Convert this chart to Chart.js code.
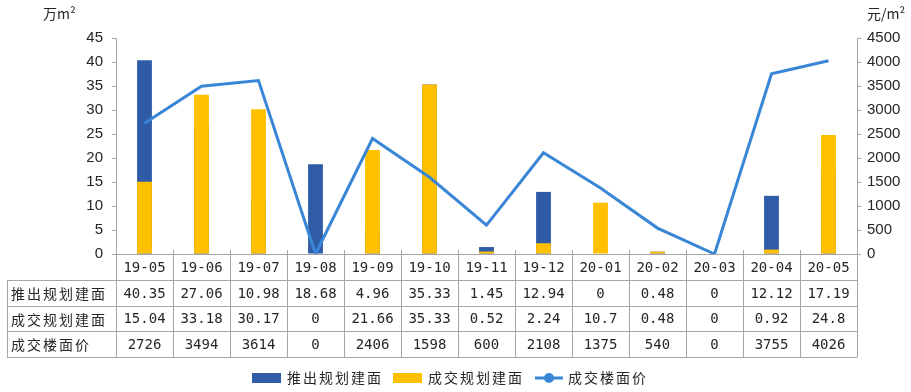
<!DOCTYPE html>
<html>
<head>
<meta charset="utf-8">
<script src="https://cdn.jsdelivr.net/npm/chart.js@4.4.1/dist/chart.umd.min.js"></script>
<style>
  html, body { margin: 0; padding: 0; background: #ffffff; }
  canvas { display: block; }
</style>
</head>
<body>
<canvas id="c" width="911" height="392"></canvas>
<script>
const categories = ['19-05','19-06','19-07','19-08','19-09','19-10','19-11','19-12','20-01','20-02','20-03','20-04','20-05'];
const pushedArea = [40.35, 27.06, 10.98, 18.68, 4.96, 35.33, 1.45, 12.94, 0, 0.48, 0, 12.12, 17.19];
const tradedArea = [15.04, 33.18, 30.17, 0, 21.66, 35.33, 0.52, 2.24, 10.7, 0.48, 0, 0.92, 24.8];
const tradedPrice = [2726, 3494, 3614, 0, 2406, 1598, 600, 2108, 1375, 540, 0, 3755, 4026];
const seriesNames = ['推出规划建面', '成交规划建面', '成交楼面价'];
const leftUnit = '万m²';
const rightUnit = '元/m²';

const BLUE = '#2f5ba7';
const YELLOW = '#ffc000';
const LINE = '#3a86d6';
const GRID = '#a6a6a6';
const TXT = '#262626';

const tablePlugin = {
  id: 'tablePlugin',
  afterDraw(chart) {
    const ctx = chart.ctx;
    const xs = chart.scales.x;
    const area = chart.chartArea;
    const n = categories.length;
    const cw = (area.right - area.left) / n;
    const top = Math.round(area.bottom);
    const rowH = 25.75;
    const tableLeft = 7;
    const rows = [top, top + rowH, top + 2 * rowH, top + 3 * rowH, top + 4 * rowH].map(v => Math.round(v));
    ctx.save();
    ctx.strokeStyle = GRID;
    ctx.lineWidth = 1;
    ctx.beginPath();
    ctx.moveTo(area.left, rows[0] + 0.5); ctx.lineTo(area.right, rows[0] + 0.5);
    for (let r = 1; r < rows.length; r++) {
      ctx.moveTo(tableLeft, rows[r] + 0.5); ctx.lineTo(area.right, rows[r] + 0.5);
    }
    for (let k = 0; k <= n; k++) {
      const x = Math.round(area.left + k * cw) + 0.5;
      ctx.moveTo(x, rows[0] - 4); ctx.lineTo(x, rows[4] + 0.5);
    }
    ctx.moveTo(tableLeft + 0.5, rows[1]); ctx.lineTo(tableLeft + 0.5, rows[4] + 0.5);
    ctx.stroke();

    ctx.fillStyle = TXT;
    ctx.textBaseline = 'middle';
    ctx.textAlign = 'center';
    ctx.font = '14px "DejaVu Sans Mono", "Noto Sans CJK SC"';
    categories.forEach((c, i) => {
      ctx.fillText(c, xs.getPixelForValue(i), (rows[0] + rows[1]) / 2 + 1);
    });
    const rowData = [pushedArea, tradedArea, tradedPrice];
    rowData.forEach((arr, r) => {
      const cy = (rows[r + 1] + rows[r + 2]) / 2 + 1;
      ctx.textAlign = 'left';
      ctx.font = '14px "Noto Sans CJK SC"';
      ctx.letterSpacing = '2px';
      ctx.fillText(seriesNames[r], 11, cy);
      ctx.letterSpacing = '0px';
      ctx.textAlign = 'center';
      ctx.font = '14px "DejaVu Sans Mono"';
      arr.forEach((v, i) => {
        ctx.fillText(String(v), xs.getPixelForValue(i), cy);
      });
    });

    ctx.textAlign = 'left';
    ctx.font = '14px "Noto Sans CJK SC"';
    ctx.fillText(leftUnit, 43, 14);
    ctx.fillText(rightUnit, 867, 14);

    const ly = 378;
    ctx.font = '14px "Noto Sans CJK SC"';
    ctx.letterSpacing = '2px';
    ctx.fillStyle = BLUE;
    ctx.fillRect(252, ly - 5, 29, 10);
    ctx.fillStyle = TXT;
    ctx.fillText(seriesNames[0], 287, ly);
    ctx.fillStyle = YELLOW;
    ctx.fillRect(393, ly - 5, 29, 10);
    ctx.fillStyle = TXT;
    ctx.fillText(seriesNames[1], 428, ly);
    ctx.strokeStyle = LINE;
    ctx.lineWidth = 3;
    ctx.beginPath(); ctx.moveTo(535, ly); ctx.lineTo(563, ly); ctx.stroke();
    ctx.fillStyle = LINE;
    ctx.beginPath(); ctx.arc(549, ly, 5, 0, Math.PI * 2); ctx.fill();
    ctx.fillStyle = TXT;
    ctx.fillText(seriesNames[2], 568, ly);
    ctx.letterSpacing = '0px';
    ctx.restore();
  }
};

new Chart(document.getElementById('c'), {
  data: {
    labels: categories,
    datasets: [
      { type: 'line', label: seriesNames[2], data: tradedPrice, yAxisID: 'y1', borderColor: LINE, backgroundColor: LINE, borderWidth: 3, pointRadius: 0, tension: 0, order: 0 },
      { type: 'bar', label: seriesNames[1], data: tradedArea, yAxisID: 'y', backgroundColor: YELLOW, grouped: false, barPercentage: 0.26, categoryPercentage: 1, order: 1 },
      { type: 'bar', label: seriesNames[0], data: pushedArea, yAxisID: 'y', backgroundColor: BLUE, grouped: false, barPercentage: 0.26, categoryPercentage: 1, order: 2 }
    ]
  },
  options: {
    responsive: false,
    animation: false,
    devicePixelRatio: 1,
    layout: { padding: { top: 38, bottom: 138, left: 0, right: 0 } },
    plugins: { legend: { display: false }, tooltip: { enabled: false } },
    scales: {
      x: {
        type: 'category', offset: true,
        grid: { display: false },
        border: { display: true, color: GRID },
        ticks: { display: false },
        afterFit(s) { s.height = 0; }
      },
      y: {
        position: 'left', min: 0, max: 45,
        ticks: { stepSize: 5, padding: 9, color: TXT, font: { family: '"Liberation Sans", Arial', size: 15 }, callback: v => String(v) },
        grid: { drawOnChartArea: false, drawTicks: true, tickLength: 4, color: GRID },
        border: { color: GRID },
        afterFit(s) { s.width = 116; }
      },
      y1: {
        position: 'right', min: 0, max: 4500,
        ticks: { stepSize: 500, padding: 6, color: TXT, font: { family: '"Liberation Sans", Arial', size: 15 }, callback: v => String(v) },
        grid: { drawOnChartArea: false, drawTicks: true, tickLength: 4, color: GRID },
        border: { color: GRID },
        afterFit(s) { s.width = 54; }
      }
    }
  },
  plugins: [tablePlugin]
});
</script>
</body>
</html>
